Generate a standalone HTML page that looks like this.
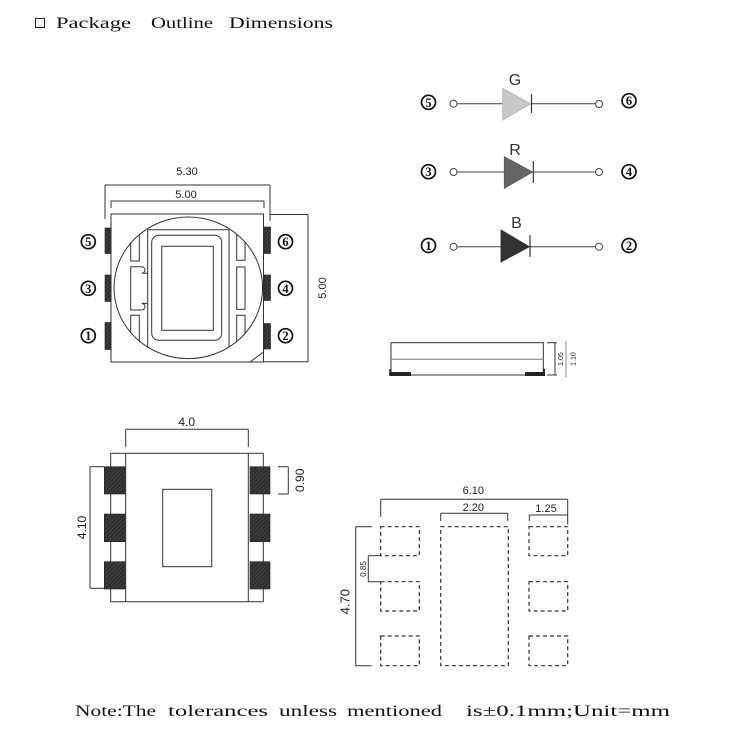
<!DOCTYPE html>
<html><head><meta charset="utf-8"><style>
html,body{margin:0;padding:0;background:#fff;}
svg{display:block;}
</style></head><body>
<svg width="748" height="737" viewBox="0 0 748 737" xmlns="http://www.w3.org/2000/svg">
<defs>
<pattern id="hatch" width="3" height="3" patternUnits="userSpaceOnUse" patternTransform="rotate(45)">
<rect width="3" height="3" fill="#2e2e2e"/><line x1="0" y1="0" x2="0" y2="3" stroke="#555" stroke-width="1"/>
</pattern>
<clipPath id="circ"><ellipse cx="188.3" cy="287.8" rx="74.3" ry="70.8"/></clipPath>
</defs>
<rect width="748" height="737" fill="#fff"/>

<!-- Title -->
<rect x="35.5" y="18.5" width="9" height="9" fill="none" stroke="#222" stroke-width="1"/>
<g font-family="Liberation Serif, serif" font-size="16" fill="#111">
<text x="56" y="28" textLength="75" lengthAdjust="spacingAndGlyphs">Package</text>
<text x="151" y="28" textLength="62" lengthAdjust="spacingAndGlyphs">Outline</text>
<text x="229" y="28" textLength="104" lengthAdjust="spacingAndGlyphs">Dimensions</text>
</g>

<!-- TOP VIEW -->
<g stroke="#333" stroke-width="1" fill="none">
<line x1="105" y1="185" x2="270" y2="185"/>
<line x1="105" y1="185" x2="105" y2="219"/>
<line x1="270" y1="185" x2="270" y2="221"/>
<line x1="111" y1="201" x2="264" y2="201"/>
<line x1="111" y1="201" x2="111" y2="208"/>
<line x1="264" y1="201" x2="264" y2="208"/>
<rect x="111" y="214" width="152.5" height="148"/>
<line x1="270" y1="214.5" x2="308" y2="214.5"/>
<line x1="263" y1="361.8" x2="308" y2="361.8"/>
<line x1="308" y1="214.5" x2="308" y2="361.8"/>
<line x1="250" y1="362" x2="263.5" y2="352"/>
<ellipse cx="188.3" cy="287.8" rx="74.3" ry="70.8"/>
<g clip-path="url(#circ)">
<line x1="147.7" y1="229.7" x2="147.7" y2="360"/>
<line x1="229" y1="229.7" x2="229" y2="360"/>
<line x1="147.7" y1="229.7" x2="229" y2="229.7"/>
<path d="M130.7 200 V261 H139.3 V200"/>
<path d="M130.7 370 V315.3 H139.3 V370"/>
<path d="M141.7 266.7 H130.7 V310 H141.7"/>
<path d="M141.7 266.7 A3.3 3.3 0 0 1 141.7 273.3 H147.7"/>
<path d="M141.7 310 A3.3 3.3 0 0 0 141.7 303.4 H147.7"/>
<path d="M236.7 200 V260.3 H245 V200"/>
<rect x="236.7" y="267" width="8.3" height="42.3"/>
<path d="M236.7 370 V315.3 H245 V370"/>
</g>
<rect x="151.7" y="235.3" width="70" height="105" rx="7" ry="7"/>
<rect x="161.7" y="246.3" width="51.6" height="84"/>
</g>
<g fill="url(#hatch)" stroke="#222" stroke-width="0.6">
<rect x="105" y="228" width="6" height="25.5"/>
<rect x="105" y="275" width="6" height="26.5"/>
<rect x="105" y="322.5" width="6" height="27"/>
<rect x="264" y="227" width="6.5" height="26.5"/>
<rect x="264" y="275" width="6.5" height="25.5"/>
<rect x="264" y="323.5" width="6.5" height="25.5"/>
</g>
<g font-family="Liberation Sans, sans-serif" font-size="11" fill="#222" text-anchor="middle">
<text x="187" y="175">5.30</text>
<text x="186" y="198">5.00</text>
<text transform="translate(326,288) rotate(-90)">5.00</text>
</g>

<!-- circled numbers -->
<g stroke="#111" stroke-width="1.7" fill="#fff">
<circle cx="88.3" cy="241.7" r="7"/>
<circle cx="88.3" cy="288.3" r="7"/>
<circle cx="88.3" cy="335.7" r="7"/>
<circle cx="285.5" cy="241.7" r="7"/>
<circle cx="285.5" cy="288.3" r="7"/>
<circle cx="285.5" cy="335.7" r="7"/>
<circle cx="428.5" cy="102.3" r="7"/>
<circle cx="629" cy="100.7" r="7"/>
<circle cx="428.5" cy="171.7" r="7"/>
<circle cx="629" cy="171.7" r="7"/>
<circle cx="428.5" cy="245.5" r="7"/>
<circle cx="629" cy="245.5" r="7"/>
</g>
<g font-family="Liberation Serif, serif" font-weight="bold" font-size="12.5" fill="#111" text-anchor="middle">
<text x="88.3" y="246.2">5</text>
<text x="88.3" y="292.8">3</text>
<text x="88.3" y="340.2">1</text>
<text x="285.5" y="246.2">6</text>
<text x="285.5" y="292.8">4</text>
<text x="285.5" y="340.2">2</text>
<text x="428.5" y="106.8">5</text>
<text x="629" y="105.2">6</text>
<text x="428.5" y="176.2">3</text>
<text x="629" y="176.2">4</text>
<text x="428.5" y="250">1</text>
<text x="629" y="250">2</text>
</g>

<!-- DIODES -->
<g stroke="#444" stroke-width="1" fill="#fff">
<line x1="457" y1="103.7" x2="595.5" y2="103.7"/>
<circle cx="453.5" cy="103.7" r="3.5"/>
<circle cx="599" cy="104" r="3.5"/>
<line x1="457" y1="172" x2="595.5" y2="172"/>
<circle cx="453.5" cy="172" r="3.5"/>
<circle cx="599" cy="172" r="3.5"/>
<line x1="457" y1="246.7" x2="595.5" y2="246.7"/>
<circle cx="453.5" cy="246.7" r="3.5"/>
<circle cx="599" cy="246.7" r="3.5"/>
</g>
<polygon points="502.7,88.3 530.7,103.7 502.7,120" fill="#c8c8c8" stroke="#b0b0b0" stroke-width="0.8"/>
<line x1="531.5" y1="94" x2="531.5" y2="113" stroke="#333" stroke-width="1.2"/>
<polygon points="504.3,156.7 532.7,172 504.3,188.3" fill="#656565" stroke="#5a5a5a" stroke-width="0.8"/>
<line x1="533.3" y1="161" x2="533.3" y2="183" stroke="#333" stroke-width="1.2"/>
<polygon points="501,230 529.3,246.7 501,262" fill="#333" stroke="#2a2a2a" stroke-width="0.8"/>
<line x1="530" y1="235" x2="530" y2="257" stroke="#333" stroke-width="1.2"/>
<g font-family="Liberation Sans, sans-serif" font-size="16" fill="#333" text-anchor="middle">
<text x="515" y="85">G</text>
<text x="515" y="155">R</text>
<text x="516.5" y="228">B</text>
</g>

<!-- SIDE VIEW -->
<g stroke="#333" stroke-width="1" fill="none">
<rect x="391" y="342.7" width="152.3" height="32.3"/>
<line x1="391" y1="359.3" x2="543.3" y2="359.3" stroke="#777"/>
<line x1="555" y1="342.7" x2="555" y2="375"/>
<line x1="547" y1="342.7" x2="557" y2="342.7"/>
<line x1="547" y1="375" x2="557" y2="375"/>
<line x1="566" y1="341" x2="566" y2="377" stroke="#888"/>
</g>
<rect x="389.3" y="372" width="21.7" height="4" fill="#222"/>
<rect x="389.3" y="369" width="2" height="7" fill="#222"/>
<rect x="525" y="372" width="20" height="4" fill="#222"/>
<rect x="543" y="369" width="2" height="7" fill="#222"/>
<g font-family="Liberation Sans, sans-serif" font-size="7" fill="#222" text-anchor="middle">
<text transform="translate(563,359) rotate(-90)">1.05</text>
<text transform="translate(575.5,359) rotate(-90)">1.10</text>
</g>

<!-- BOTTOM VIEW -->
<g stroke="#333" stroke-width="1" fill="none">
<line x1="125.7" y1="429.3" x2="248.3" y2="429.3"/>
<line x1="125.7" y1="429.3" x2="125.7" y2="447"/>
<line x1="248.3" y1="429.3" x2="248.3" y2="447"/>
<rect x="110.7" y="453.3" width="152.6" height="148.4"/>
<line x1="125.7" y1="453.3" x2="125.7" y2="601.7"/>
<line x1="248.3" y1="453.3" x2="248.3" y2="601.7"/>
<rect x="162.7" y="489.3" width="49" height="77.4"/>
<line x1="90" y1="466.7" x2="90" y2="588.3"/>
<line x1="90" y1="466.7" x2="104" y2="466.7"/>
<line x1="90" y1="588.3" x2="104" y2="588.3"/>
<line x1="278" y1="466.7" x2="288.3" y2="466.7"/>
<line x1="278" y1="494" x2="288.3" y2="494"/>
<line x1="288.3" y1="466.7" x2="288.3" y2="494"/>
</g>
<g fill="url(#hatch)" stroke="#222" stroke-width="0.6">
<rect x="104.3" y="466.7" width="20.7" height="27.3"/>
<rect x="104.3" y="514" width="20.7" height="27.7"/>
<rect x="104.3" y="561.7" width="20.7" height="27.3"/>
<rect x="250" y="466.7" width="20" height="27.3"/>
<rect x="250" y="514" width="20" height="27.7"/>
<rect x="250" y="561.7" width="20" height="27.3"/>
</g>
<g font-family="Liberation Sans, sans-serif" font-size="12" fill="#222" text-anchor="middle">
<text x="186.7" y="426">4.0</text>
<text transform="translate(86,527.5) rotate(-90)">4.10</text>
<text transform="translate(304,480.3) rotate(-90)">0.90</text>
</g>

<!-- FOOTPRINT -->
<g stroke="#333" stroke-width="1" fill="none">
<line x1="380.7" y1="499.3" x2="567.7" y2="499.3"/>
<line x1="380.7" y1="499.3" x2="380.7" y2="516.7"/>
<line x1="567.7" y1="499.3" x2="567.7" y2="524.3"/>
<line x1="440.7" y1="513.3" x2="507.7" y2="513.3"/>
<line x1="440.7" y1="513.3" x2="440.7" y2="521"/>
<line x1="507.7" y1="513.3" x2="507.7" y2="521"/>
<line x1="529.3" y1="515" x2="567.7" y2="515"/>
<line x1="529.3" y1="515" x2="529.3" y2="521"/>
<line x1="355.7" y1="526.7" x2="355.7" y2="665.7"/>
<line x1="355.7" y1="526.7" x2="371.7" y2="526.7"/>
<line x1="355.7" y1="665.7" x2="371.7" y2="665.7"/>
<line x1="368.3" y1="555.7" x2="368.3" y2="581.7"/>
<line x1="368.3" y1="555.7" x2="380.7" y2="555.7"/>
<line x1="368.3" y1="581.7" x2="380.7" y2="581.7"/>
</g>
<g stroke="#333" stroke-width="1.2" fill="none" stroke-dasharray="4 3">
<rect x="380.7" y="526.7" width="38.6" height="29"/>
<rect x="380.7" y="581.7" width="38.6" height="29.3"/>
<rect x="380.7" y="636" width="38.6" height="29.7"/>
<rect x="529" y="526.7" width="38.7" height="29"/>
<rect x="529" y="581.7" width="38.7" height="29.3"/>
<rect x="529" y="636" width="38.7" height="29.7"/>
<rect x="440.7" y="526.7" width="67.6" height="139"/>
</g>
<g font-family="Liberation Sans, sans-serif" font-size="11" fill="#222" text-anchor="middle">
<text x="473.3" y="494">6.10</text>
<text x="473.3" y="511">2.20</text>
<text x="546" y="512">1.25</text>
<text transform="translate(349.5,601.7) rotate(-90)" font-size="13">4.70</text>
<text transform="translate(366,569) rotate(-90)" font-size="8">0.85</text>
</g>

<!-- Note -->
<g font-family="Liberation Serif, serif" font-size="16" fill="#111">
<text x="75" y="716" textLength="81" lengthAdjust="spacingAndGlyphs">Note:The</text>
<text x="168" y="716" textLength="100" lengthAdjust="spacingAndGlyphs">tolerances</text>
<text x="279" y="716" textLength="58" lengthAdjust="spacingAndGlyphs">unless</text>
<text x="347" y="716" textLength="95" lengthAdjust="spacingAndGlyphs">mentioned</text>
<text x="466" y="716" textLength="204" lengthAdjust="spacingAndGlyphs">is±0.1mm;Unit=mm</text>
</g>
</svg>
</body></html>
